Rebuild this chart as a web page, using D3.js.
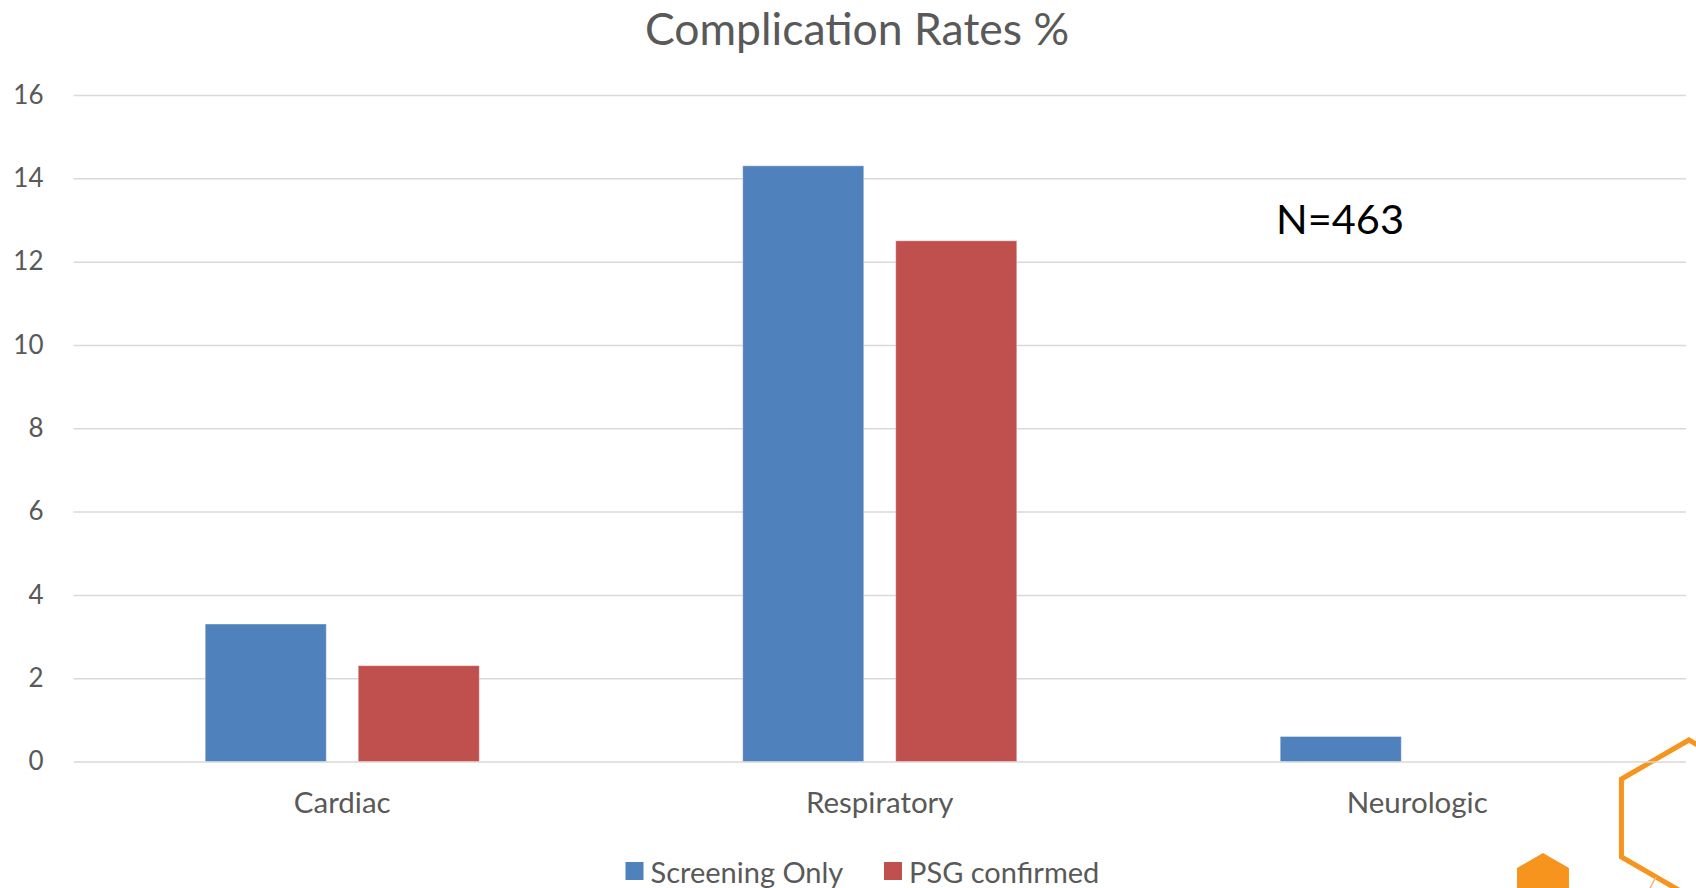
<!DOCTYPE html>
<html>
<head>
<meta charset="utf-8">
<script src="https://cdn.jsdelivr.net/npm/d3@7"></script>
<style>
  html, body { margin: 0; padding: 0; background: #ffffff; }
  svg { display: block; }
  text { font-family: Lato, "Open Sans", sans-serif; }
</style>
</head>
<body>
<svg id="chart" width="1696" height="888"></svg>
<script>
// Chart data
const categories = ["Cardiac", "Respiratory", "Neurologic"];
const seriesNames = ["Screening Only", "PSG confirmed"];
const screeningOnly = [3.3, 14.3, 0.6];
const psgConfirmed = [2.3, 12.5, 0];
const yTicks = [0, 2, 4, 6, 8, 10, 12, 14, 16];
const seriesColors = ["#4f81bd", "#c0504d"];
const chartTitle = "Complication Rates %";
const sampleNote = "N=463";

const svg = d3.select("#chart");
const plot = { left: 73.5, right: 1686, top: 95, bottom: 761.5 };

const x = d3.scaleBand().domain(categories).range([plot.left, plot.right]).paddingInner(0).paddingOuter(0);
const xInner = d3.scaleBand().domain(seriesNames).range([0, x.bandwidth()])
  .paddingInner(0.209).paddingOuter(0.861);
const y = d3.scaleLinear().domain([0, 16]).range([plot.bottom, plot.top]);

// Orange hexagon ornaments in the lower right corner (behind the grid)
function hexPoints(cx, cy, r) {
  return d3.range(6).map(k => {
    const a = -Math.PI / 2 + k * Math.PI / 3;
    return [cx + r * Math.cos(a), cy + r * Math.sin(a)];
  });
}
const deco = svg.append("g");
deco.append("polygon")
  .attr("points", hexPoints(1689, 818, 78).map(p => p.join(",")).join(" "))
  .attr("fill", "none")
  .attr("stroke", "#f7941d")
  .attr("stroke-width", 5);
deco.append("polygon")
  .attr("points", hexPoints(1543, 883, 30).map(p => p.join(",")).join(" "))
  .attr("fill", "#f7941d");
deco.append("line")
  .attr("x1", 1656).attr("y1", 877).attr("x2", 1650).attr("y2", 888)
  .attr("stroke", "#f7b56a").attr("stroke-width", 1.5);

// Gridlines and y tick labels
const yAxis = d3.axisLeft(y)
  .tickValues(yTicks)
  .tickSize(-(plot.right - plot.left))
  .tickPadding(30)
  .tickFormat(d3.format("d"));

const gy = svg.append("g")
  .attr("transform", `translate(${plot.left},0)`)
  .call(yAxis);
gy.select(".domain").remove();
gy.selectAll(".tick line").attr("stroke", "#d9d9d9").attr("stroke-width", 1.5);
gy.selectAll(".tick text")
  .attr("fill", "#595959")
  .style("font-size", "26px")
  .style("font-family", "Lato, sans-serif");

// Bars
const rows = categories.map((c, i) => ({
  category: c,
  values: [
    { series: seriesNames[0], value: screeningOnly[i], color: seriesColors[0] },
    { series: seriesNames[1], value: psgConfirmed[i], color: seriesColors[1] }
  ]
}));

const groups = svg.append("g").selectAll("g")
  .data(rows)
  .join("g")
  .attr("transform", d => `translate(${x(d.category)},0)`);

groups.selectAll("rect")
  .data(d => d.values.filter(v => v.value > 0))
  .join("rect")
  .attr("x", d => xInner(d.series))
  .attr("width", xInner.bandwidth())
  .attr("y", d => y(d.value))
  .attr("height", d => y(0) - y(d.value))
  .attr("fill", d => d.color)
  .attr("stroke", "rgba(255,255,255,0.35)")
  .attr("stroke-width", 1);

// Category labels
svg.append("g").selectAll("text")
  .data(categories)
  .join("text")
  .attr("x", d => x(d) + x.bandwidth() / 2)
  .attr("y", 813)
  .attr("text-anchor", "middle")
  .attr("fill", "#595959")
  .style("font-size", "29.5px")
  .text(d => d);

// Title
svg.append("text")
  .attr("x", 857)
  .attr("y", 45)
  .attr("text-anchor", "middle")
  .attr("fill", "#595959")
  .style("font-size", "44.5px")
  .text(chartTitle);

// Sample size note
svg.append("text")
  .attr("x", 1276)
  .attr("y", 234)
  .attr("fill", "#000000")
  .style("font-size", "41.5px")
  .text(sampleNote);

// Legend
const legend = svg.append("g");
const legendItems = [
  { name: seriesNames[0], color: seriesColors[0], x: 625.5 },
  { name: seriesNames[1], color: seriesColors[1], x: 884 }
];
legendItems.forEach(it => {
  legend.append("rect")
    .attr("x", it.x).attr("y", 862).attr("width", 18).attr("height", 18)
    .attr("fill", it.color);
  legend.append("text")
    .attr("x", it.x + 25).attr("y", 882.5)
    .attr("fill", "#595959")
    .style("font-size", "29px")
    .text(it.name);
});
</script>
</body>
</html>
